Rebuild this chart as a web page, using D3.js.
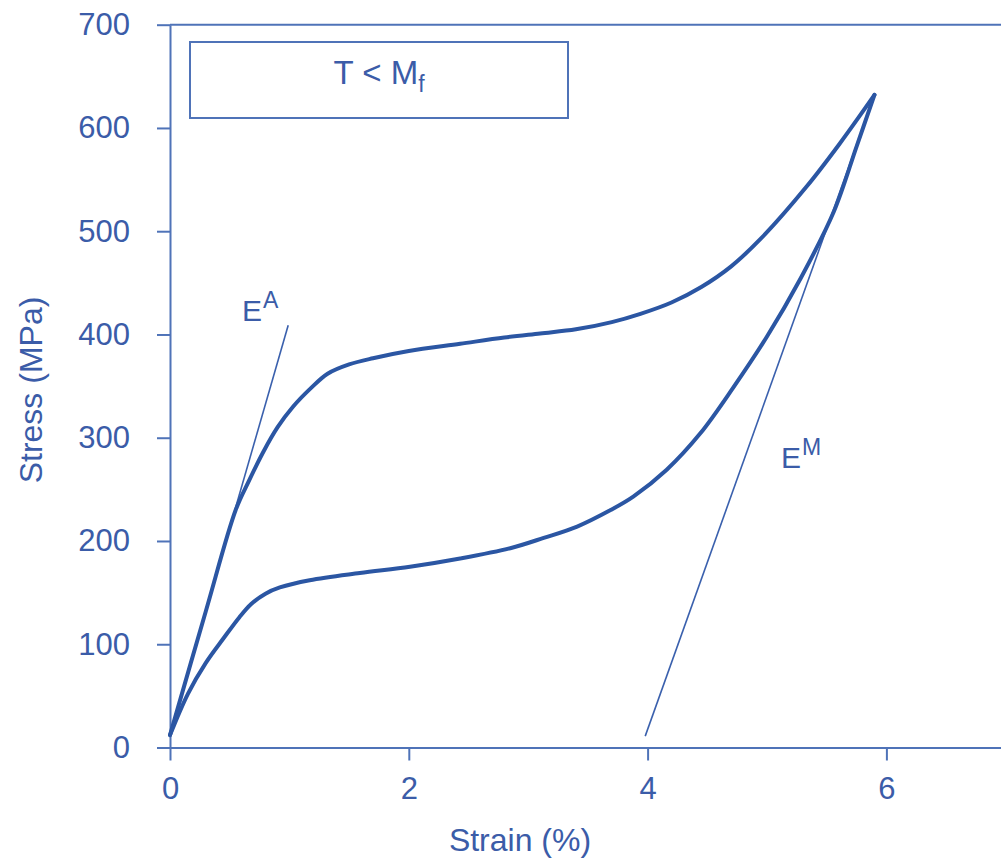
<!DOCTYPE html>
<html>
<head>
<meta charset="utf-8">
<script src="https://cdn.jsdelivr.net/npm/d3@7"></script>
<style>
  html, body { margin: 0; padding: 0; background: #fff; }
  svg { display: block; }
  text { font-family: "Liberation Sans", Arial, sans-serif; }
</style>
</head>
<body>
<svg id="chart" width="1001" height="861"></svg>
<script>
// ---- data ----
const xTicks = [0, 2, 4, 6];
const yTicks = [0, 100, 200, 300, 400, 500, 600, 700];

const loadStrain = [0, 0.3, 0.55, 0.66, 0.78, 0.9, 1.03, 1.18, 1.32, 1.5, 1.7, 2.0, 2.43, 2.8, 3.1, 3.4, 3.7, 3.94, 4.2, 4.45, 4.7, 4.95, 5.33, 5.61, 5.9];
const loadStress = [12, 132, 230, 258, 286, 310, 330, 348, 362, 371, 377, 384, 391, 397, 401, 405, 412, 420, 431, 446, 466, 493, 543, 585, 632];

const unloadStrain = [0, 0.15, 0.3, 0.45, 0.58, 0.68, 0.8, 0.92, 1.17, 1.59, 2.01, 2.43, 2.85, 3.13, 3.41, 3.69, 3.88, 4.16, 4.44, 4.72, 5.0, 5.28, 5.56, 5.75, 5.9];
const unloadStress = [12, 52, 82, 106, 126, 139, 149, 155, 162, 169, 175, 183, 193, 203, 214, 230, 243, 269, 304, 349, 398, 454, 519, 582, 632];

const eaLineStrain = [0, 0.99];
const eaLineStress = [12, 409];
const emLineStrain = [3.98, 5.9];
const emLineStress = [11, 632];

// ---- layout ----
const axisColor = "#4f73b8";
const textColor = "#3b5ca8";
const curveColor = "#2b56a3";

const svg = d3.select("#chart");
const x = d3.scaleLinear().domain([0, 7]).range([170, 170 + 7 * 119.4]);
const y = d3.scaleLinear().domain([0, 700]).range([747.5, 24.7]);

// top frame line
svg.append("line")
  .attr("x1", x(0)).attr("x2", x(7))
  .attr("y1", y(700)).attr("y2", y(700))
  .attr("stroke", axisColor).attr("stroke-width", 2);

// x axis
const gx = svg.append("g")
  .attr("transform", `translate(0,${y(0)})`)
  .call(d3.axisBottom(x).tickValues(xTicks).tickFormat(d3.format("d"))
    .tickSize(13).tickSizeOuter(0).tickPadding(16.5));
// y axis
const gy = svg.append("g")
  .attr("transform", `translate(${x(0)},0)`)
  .call(d3.axisLeft(y).tickValues(yTicks).tickFormat(d3.format("d"))
    .tickSize(13).tickSizeOuter(0).tickPadding(27));

[gx, gy].forEach(g => {
  g.select(".domain").attr("stroke", axisColor).attr("stroke-width", 2);
  g.selectAll(".tick line").attr("stroke", axisColor).attr("stroke-width", 2);
  g.selectAll(".tick text")
    .attr("fill", textColor)
    .style("font-size", "31px")
    .style("font-family", "'Liberation Sans', Arial, sans-serif");
});

// axis titles
svg.append("text")
  .attr("x", 520).attr("y", 851)
  .attr("text-anchor", "middle")
  .attr("fill", textColor)
  .style("font-size", "32px")
  .text("Strain (%)");

svg.append("text")
  .attr("transform", "translate(42,390) rotate(-90)")
  .attr("text-anchor", "middle")
  .attr("fill", textColor)
  .style("font-size", "32px")
  .text("Stress (MPa)");

// tangent lines
const line = d3.line().x(d => x(d[0])).y(d => y(d[1]));
svg.append("path")
  .datum(d3.zip(eaLineStrain, eaLineStress))
  .attr("d", line)
  .attr("fill", "none").attr("stroke", "#3a60ad").attr("stroke-width", 1.6);
svg.append("path")
  .datum(d3.zip(emLineStrain, emLineStress))
  .attr("d", line)
  .attr("fill", "none").attr("stroke", "#3a60ad").attr("stroke-width", 1.6);

// curves
const curve = d3.line().x(d => x(d[0])).y(d => y(d[1])).curve(d3.curveCatmullRom.alpha(0.5));
svg.append("path")
  .datum(d3.zip(loadStrain, loadStress))
  .attr("d", curve)
  .attr("fill", "none").attr("stroke", curveColor).attr("stroke-width", 4)
  .attr("stroke-linejoin", "round").attr("stroke-linecap", "round");
svg.append("path")
  .datum(d3.zip(unloadStrain, unloadStress))
  .attr("d", curve)
  .attr("fill", "none").attr("stroke", curveColor).attr("stroke-width", 4)
  .attr("stroke-linejoin", "round").attr("stroke-linecap", "round");

// labels E^A and E^M
function modLabel(px, py, sup) {
  const t = svg.append("text")
    .attr("x", px).attr("y", py)
    .attr("fill", textColor)
    .style("font-size", "30px");
  t.append("tspan").text("E");
  t.append("tspan").attr("dx", 1).attr("dy", -13).style("font-size", "23px").text(sup);
}
modLabel(242, 321, "A");
modLabel(781, 468, "M");

// title box
svg.append("rect")
  .attr("x", 190).attr("y", 42)
  .attr("width", 378).attr("height", 76)
  .attr("fill", "none").attr("stroke", axisColor).attr("stroke-width", 2);
const tt = svg.append("text")
  .attr("x", 379).attr("y", 84)
  .attr("text-anchor", "middle")
  .attr("fill", textColor)
  .style("font-size", "33px");
tt.append("tspan").text("T < M");
tt.append("tspan").attr("dy", 8).style("font-size", "23px").text("f");
</script>
</body>
</html>
